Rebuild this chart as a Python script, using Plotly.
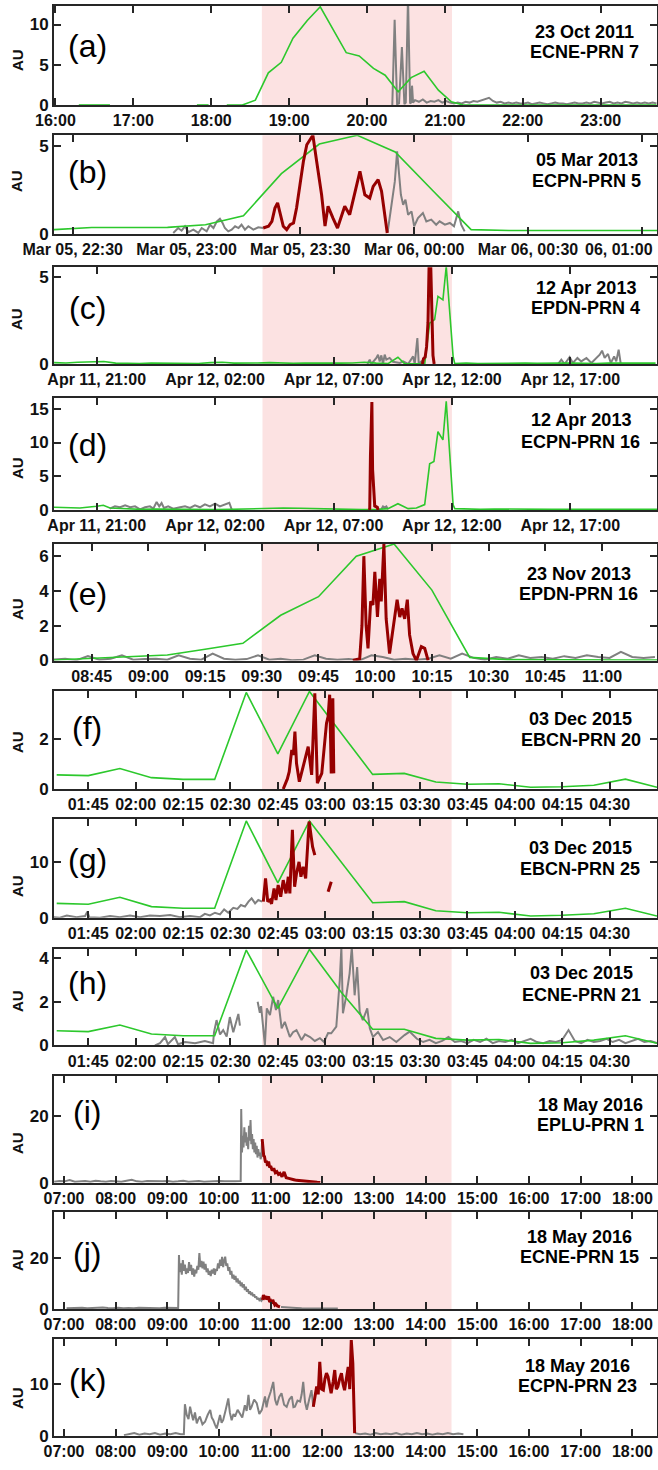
import numpy as np
import pandas as pd
import plotly.graph_objects as go

# ---------------- colours ----------------
GREEN = "rgb(44,200,44)"
GRAY = "rgb(128,128,128)"
RED = "rgb(150,0,0)"
PINK = "rgb(252,226,226)"
AX = "#262626"

# ================= DATA =================
# (a) 23 Oct 2011, ECNE-PRN 7 ; times in minutes from 16:00
a_base = "2011-10-23 16:00"
a_xrange_min = [-1.1, 463.4]
a_shade_min = [159.0, 305.5]
a_green_min = [18, 30, 42, 46, 109, 118, 125, 132, 144, 154, 164, 174, 183, 194, 204, 224, 234, 245, 254, 264,
               274, 284, 295, 305, 314, 324, 334, 344, 354, 364, 374, 384, 394, 404, 414, 424, 434, 444, 454, 463]
a_green_val = [0, 0, 0, None, 0, 0, None, 0, 0, 0.6, 4.0, 5.3, 8.3, 10.5, 12.2, 6.5, 6.1, 4.55, 3.7, 1.65,
               3.4, 4.2, 1.85, 0.4, 0, 0, 0, 0, 0, 0, 0, 0, 0, 0, 0, 0, 0, 0, 0, 0]
a_gray_spike_min = [259.5, 261.3, 263.2, 264.7, 266.9, 268.8, 269.9, 271.6, 273.2, 274.0, 274.7, 275.5]
a_gray_spike_val = [0, 10.6, 0.1, 0.2, 7.2, 0.1, 0.3, 13.5, 0.2, 0.3, 2.4, 0.3]
a_gray_noise_start, a_gray_noise_step = 277, 3
a_gray_noise_val = [0.6, 0.4, 0.7, 0.3, 0.5, 0.4, 0.6, 0.3, 0.5, 0.3, 0.2, 0.3, 0.2, 0.4, 0.3, 0.5, 0.4, 0.6,
                    0.7, 0.9, 0.5, 0.3, 0.4, 0.2, 0.3, 0.2, 0.3, 0.2, 0.2, 0.3, 0.1, 0.2, 0.3, 0.2, 0.1, 0.2,
                    0.3, 0.2, 0.2, 0.1, 0.2, 0.3, 0.2, 0.2, 0.3, 0.2, 0.4, 0.3, 0.2, 0.3, 0.4, 0.2, 0.3, 0.2,
                    0.4, 0.3, 0.2, 0.3, 0.2, 0.3, 0.2, 0.3, 0.2]

# (b) 05 Mar 2013, ECPN-PRN 5 ; minutes from 22:30
b_base = "2013-03-05 22:30"
b_xrange_min = [-4.93, 154.0]
b_shade_min = [50.0, 100.0]
b_green_min = [-5, 5, 15, 25, 35, 45, 55, 65, 75, 85, 95, 105, 115, 125, 135, 145, 155]
b_green_val = [0.25, 0.37, 0.37, 0.38, 0.53, 1.04, 3.44, 5.13, 5.63, 4.68, 2.45, 0.25, 0.2, 0.2, 0.2, 0.2, 0.2]
b_gray1_min = [26.5, 27.8, 28.7, 29.6, 30.5, 31.8, 33.1, 34.0, 35.3, 36.2, 37.1, 38.0, 38.8, 39.5, 40.1, 41.0,
               41.9, 42.8, 43.7, 44.5, 45.4, 46.3, 47.6, 48.9, 50.2]
b_gray1_val = [0.06, 0.34, 0.19, 0.44, 0.11, 0.25, 0.06, 0.34, 0.15, 0.53, 0.34, 0.72, 0.87, 0.63, 0.34, 0.15,
               0.25, 0.44, 0.34, 0.53, 0.25, 0.44, 0.25, 0.38, 0.34]
b_red_min = [50.2, 51.6, 52.5, 53.3, 54.0, 54.6, 55.5, 56.4, 57.3, 58.2, 59.0, 59.9, 60.8, 61.7, 63.3, 64.3,
             65.6, 66.5, 67.3, 68.6, 69.8, 71.7, 73.0, 75.7, 77.0, 78.3, 79.2, 80.5, 81.4, 82.9]
b_red_val = [0.34, 0.44, 0.72, 1.48, 1.77, 1.3, 0.44, 0.25, 0.53, 0.63, 1.48, 2.81, 4.14, 5.09, 5.63, 4.14,
             2.24, 0.45, 1.58, 0.91, 0.34, 1.58, 1.1, 3.57, 2.24, 2.05, 2.72, 3.1, 2.43, 0.06]
b_gray2_min = [83.0, 84.0, 84.9, 85.5, 86.0, 86.5, 87.1, 87.7, 88.4, 89.3, 90.0, 91.0, 92.3, 93.2, 94.5, 95.8,
               96.7, 98.1, 99.4, 100.5, 101.6, 102.4, 103.3]
b_gray2_val = [0.1, 1.67, 3.0, 4.71, 3.19, 2.24, 1.67, 1.96, 1.1, 1.29, 0.44, 0.91, 1.2, 0.72, 0.82, 0.53,
               0.72, 0.53, 0.63, 0.44, 1.29, 0.53, 0.15]

# (c) & (d) 12 Apr 2013 ; hours from 11 Apr 21:00
cd_base = "2013-04-11 21:00"
cd_xrange_h = [-1.803, 23.66]
cd_shade_h = [7.0, 15.0]
c_green_h = [-1.8, -1.3, -0.8, -0.3, 0.0, 0.3,
             0.8, 1.3, 1.8, 2.3, 2.8, 3.3, 3.8, 4.3, 4.8, 5.3, 5.8, 6.3, 6.8, 7.3, 7.8, 8.3, 8.8, 9.3, 9.8,
             10.3, 10.8, 11.3, 11.8, 12.3,
             12.72, 13.0, 13.5, 13.85, 14.06, 14.27, 14.41, 14.62, 14.76, 15.05, 15.12,
             15.6, 16.1, 16.6, 17.1, 17.6, 18.1, 18.6, 19.1, 19.6, 20.1, 20.6, 21.1, 21.6, 22.1, 22.6, 23.1, 23.6]
c_green_val = [0.08, 0.06, 0.1, 0.12, 0.16, 0.14,
               0.05, 0.02, 0.03, 0.05, 0.04, 0.02, 0.05, 0.03, 0.08, 0.1, 0.05, 0.04, 0.06, 0.08, 0.05, 0.04,
               0.06, 0.05, 0.03, 0.05, 0.06, 0.1, 0.05, 0.02,
               0.39, 0.02, 0.01, 0.0, 2.36, 2.56, 3.9, 3.7, 5.63, 0.44, 0.02,
               0.05, 0.03, 0.04, 0.06, 0.03, 0.05, 0.04, 0.03, 0.05, 0.06, 0.04, 0.03, 0.05, 0.04, 0.06, 0.03, 0.05]
c_gray_h = [11.43, 11.53, 11.6, 11.81, 11.88, 11.95, 12.02, 12.09, 12.16, 12.23, 12.37, 12.51, 12.8, 12.94,
            13.15, 13.29, 13.36, 13.43, 13.54, 13.6, 13.71, 13.85, 16.0,
            19.48, 19.62, 19.76, 19.97, 20.11, 20.3, 20.46, 20.68, 20.89, 21.1, 21.24, 21.34, 21.45, 21.59,
            21.71, 21.85, 21.94, 22.04, 22.13]
c_gray_val = [0, 0.25, 0, 0.35, 0.54, 0.15, 0.5, 0, 0.54, 0.25, 0.35, 0.13, 0.06, 0.15,
              0, 0.35, 0.44, 0, 1.5, 0, 0.15, 0, None,
              0, 0.25, 0, 0.4, 0.06, 0.35, 0.15, 0.35, 0.06, 0.35, 0.54, 0.77, 0.35, 0.58,
              0.06, 0.44, 0.15, 0.83, 0]
c_red_h = [13.75, 13.8, 13.87, 13.93, 13.99, 14.04, 14.1, 14.16, 14.2, 14.25]
c_red_val = [0, 0.3, 0.4, 1.0, 2.4, 6.0, 6.0, 1.5, 0.5, 0]

d_green_h = [-1.83, -1.3, -0.71, 0, 0.28, 0.56,
             1.1, 1.83, 2.5, 3.2, 3.9, 4.36, 5.0, 5.7, 6.61, 7.2,
             7.88, 8.6, 9.2, 9.85, 10.5, 11.17, 11.88, 12.3, 12.72, 13.15,
             13.5, 13.85, 14.06, 14.24, 14.41, 14.62, 14.76, 15.05, 15.12,
             15.6, 16.2, 16.8, 17.4, 18.0, 18.6, 19.2, 19.8, 20.4, 21.0, 21.6, 22.2, 22.8, 23.4, 23.66]
d_green_val = [0.4, 0.35, 0.3, 0.55, 0.7, 0.3,
               0.2, 0.1, 0.15, 0.1, 0.12, 0.1, 0.08, 0.1, 0.2, 0.25,
               0.3, 0.25, 0.2, 0.2, 0.1, 0.05, 0.1, 0.2, 0.93, 0.2,
               0.3, 0.8, 6.85, 7.2, 11.6, 10.4, 16.1, 0.78, 0.2,
               0.15, 0.1, 0.15, 0.12, 0.1, 0.15, 0.1, 0.12, 0.15, 0.1, 0.12, 0.1, 0.15, 0.1, 0.12]
d_gray_h = [0.55, 0.77, 0.99, 1.2, 1.41, 1.62, 1.83, 2.04, 2.25, 2.39,
            2.53, 2.64, 2.74, 2.84, 3.02, 3.23, 3.52, 3.73, 3.94, 4.15,
            4.36, 4.57, 4.78, 5.0, 5.2, 5.42, 5.6, 5.7, 9.0,
            12.02, 12.09, 12.16, 12.23, 12.3]
d_gray_val = [0.2, 0.54, 0.4, 0.69, 0.4, 0.54, 0.1, 0.4, 0.54, 0.2,
              1.18, 0.54, 1.03, 0.3, 0.54, 0.2, 0.4, 0.54, 0.3, 0.69,
              0.4, 0.84, 0.54, 0.94, 0.54, 0.84, 1.08, 0.1, None,
              0.1, 0.54, 0.4, 0.54, 0.1]
d_red_h = [11.5, 11.53, 11.56, 11.59, 11.62, 11.65, 11.67, 11.74, 11.85, 11.88]
d_red_val = [0, 0.2, 8.0, 16.0, 16.0, 6.0, 4.2, 0.6, 0.4, 0]

# (e) 23 Nov 2013, EPDN-PRN 16 ; minutes from 08:45
e_base = "2013-11-23 08:45"
e_xrange_min = [-9.97, 149.55]
e_shade_min = [45.0, 95.0]
e_green_min = [-10, 0, 10, 20, 30, 40, 50, 60, 70, 80, 90, 100, 110, 120, 130, 140, 150]
e_green_val = [0.03, 0.12, 0.2, 0.32, 0.65, 0.99, 2.6, 3.67, 6.0, 6.7, 4.05, 0.18, 0.05, 0.03, 0.03, 0.03, 0.03]
e_gray_start, e_gray_step = -10, 3
e_gray_val = [0.05, 0.1, 0.02, 0.25, 0.05, 0.1, 0.3, 0.05, 0.08, 0.1,
              0.04, 0.3, 0.1, 0.05, 0.4, 0.1, 0.05, 0.08, 0.3, 0.05,
              0.1, 0.02, 0.05, 0.3, 0.1, 0.05, 0.08, 0.02, 0.3, 0.2,
              0.05, 0.1, 0.05, 0.1, 0.3, 0.1, 0.4, 0.15, 0.05, 0.2,
              0.1, 0.3, 0.15, 0.2, 0.1, 0.25, 0.15, 0.3, 0.2, 0.15,
              0.5, 0.2, 0.15, 0.2]
e_red_min = [69.1, 70.9, 71.5, 72.0, 72.6, 73.1, 73.8, 74.4, 74.9, 75.6,
             76.2, 76.6, 77.3, 77.9, 78.8, 79.7, 80.8, 81.5, 82.1, 82.8,
             83.5, 84.1, 85.0, 85.9, 87.2, 88.1, 89.0]
e_red_val = [0, 0.1, 2.0, 6.0, 2.0, 0.7, 3.4, 3.2, 5.1, 2.5,
             4.7, 3.4, 6.7, 2.4, 0.4, 1.75, 3.5, 2.5, 3.0, 2.4,
             3.5, 1.47, 0.4, 0.0, 0.8, 0.7, 0.0]

# (f), (g), (h) 03 Dec 2015 ; minutes from 01:45
fgh_base = "2015-12-03 01:45"
fgh_xrange_min = [-10.85, 180.0]
fgh_shade_min = [55.0, 115.0]
fgh_green_min = [-10, 0, 10, 20, 30, 40, 50, 60, 70, 80, 90, 100, 110, 120, 130, 140, 150, 160, 170, 180]
f_green_val = [0.56, 0.53, 0.81, 0.45, 0.38, 0.38, 3.83, 1.39, 3.87, 2.2,
               0.58, 0.62, 0.28, 0.19, 0.21, 0.07, 0.09, 0.15, 0.39, 0.07]
g_green_val = [2.6, 2.42, 3.69, 2.0, 1.7, 1.7, 17.5, 6.3, 17.5, 10.2,
               2.7, 2.9, 1.27, 0.9, 0.98, 0.3, 0.43, 0.72, 1.7, 0.3]
h_green_val = [0.67, 0.63, 0.93, 0.52, 0.44, 0.44, 4.38, 1.7, 4.41, 2.45,
               0.74, 0.74, 0.32, 0.24, 0.27, 0.09, 0.12, 0.24, 0.44, 0.09]
f_red_min = [61.7, 63.0, 63.6, 64.4, 64.9, 65.4, 65.9, 66.8, 69.6, 70.7,
             71.7, 72.5, 73.9, 75.4, 75.9, 76.4, 76.9, 77.4, 77.7]
f_red_val = [0, 0.4, 0.69, 1.55, 1.35, 2.28, 1.02, 0.29, 1.68, 0.56,
             3.8, 0.23, 0.62, 2.61, 2.87, 3.74, 0.62, 3.6, 0.62]
g_gray_min = [-11.1, -9.0, -6.8, -3.7, -1.0, -0.3, 0.3, 3.7, 6.9, 10.0,
              13.2, 16.4, 19.5, 22.7, 25.9, 29.0, 32.2, 35.4, 36.9, 38.5,
              40.1, 41.7, 43.0, 44.3, 45.9, 47.2, 48.3, 49.6, 50.7, 51.7,
              52.8, 53.8, 55.0]
g_gray_val = [0.1, 0, 0.4, 0.1, 0.3, 1.1, 0.1, 0, 0.3, 0.1,
              0.4, 0.1, 0.4, 0.3, 0.5, 0.1, 0.3, 0.1, 0.7, 0.4,
              0.9, 0.6, 1.5, 0.9, 1.8, 1.6, 2.3, 2.0, 2.9, 3.5,
              2.6, 3.2, 2.9]
g_red_min = [55.4, 56.1, 56.8, 57.5, 58.0, 58.8, 59.4, 60.1, 60.9, 61.7,
             62.6, 63.3, 63.8, 64.6, 65.3, 65.9, 66.7, 67.3, 68.0, 68.8,
             69.9, 71.0, 71.7, 73.8, 75.9, 76.9]
g_red_val = [2.9, 7.1, 2.9, 3.2, 2.5, 5.3, 3.2, 5.9, 3.8, 6.8,
             4.4, 7.4, 4.4, 15.9, 5.6, 8.0, 10.1, 7.4, 9.2, 7.1,
             17.4, 12.8, 11.3, None, 4.7, 6.5]
h_gray_min = [21.1, 22.7, 24.3, 25.2, 27.4, 28.4, 30.6, 33.8, 36.9, 39.5,
              39.8, 40.6, 41.7, 42.7, 43.8, 44.8, 45.9, 46.7, 47.5, 48.0,
              50.0,
              53.6, 54.3, 54.7, 55.3, 55.9, 56.5, 57.5, 58.5, 59.4, 60.1,
              61.2, 62.2, 63.8, 64.8, 65.9, 67.5, 68.6, 70.2, 71.7, 73.3,
              74.6, 75.9, 76.9, 78.5, 79.6, 80.1, 80.6, 81.6, 82.7, 83.4,
              84.3, 85.1, 85.9, 86.9, 88.3, 89.1, 90.1, 91.7, 93.3, 95.4,
              97.5, 100.1, 101.7]
h_gray_val = [0.0, 0.1, 0.38, 0.05, 0.38, 0.05, 0.15, 0.1, 0.2, 0.1,
              0.6, 1.16, 0.5, 0.7, 0.4, 1.3, 0.6, 1.0, 1.44, 0.9,
              None,
              2.0, 1.5, 1.8, 0.8, 0.0, 1.7, 1.39, 2.23, 1.62, 2.08,
              0.78, 1.08, 0.38, 0.6, 0.7, 0.24, 0.5, 0.38, 0.2, 0.33,
              0.15, 0.56, 0.55, 0.86, 3.0, 4.5, 1.47, 2.23, 3.3, 4.5,
              2.3, 3.6, 1.54, 1.16, 1.7, 0.78, 0.38, 0.61, 0.24, 0.38,
              0.15, 0.47, 0.63]
h_gray_noise_start, h_gray_noise_step = 104, 2
h_gray_noise_val = [0.3, 0.15, 0.25, 0.1, 0.2, 0.38, 0.15, 0.2, 0.1, 0.25,
                    0.15, 0.3, 0.1, 0.2, 0.15, 0.25, 0.1, 0.2, 0.3, 0.15,
                    0.1, 0.2, 0.15, 0.25, 0.7, 0.2, 0.1, 0.25, 0.15, 0.2,
                    0.3, 0.15, 0.25, 0.1, 0.2, 0.3, 0.15, 0.2, 0.1]

# (i), (j), (k) 18 May 2016 ; hours from 07:00
ijk_base = "2016-05-18 07:00"
ijk_xrange_h = [-0.1935, 11.477]
ijk_shade_h = [3.8333, 7.5]
i_gray_noise_start, i_gray_noise_step = -0.19, 0.1
i_gray_noise_val = [0.3, 0.5, 0.4, 0.8, 0.3, 0.4, 0.5, 0.3, 0.6, 0.4,
                    0.3, 0.5, 0.4, 0.3, 0.6, 0.9, 0.4, 0.3, 0.5, 0.4,
                    0.3, 0.4, 0.5, 0.3, 0.4, 0.6, 0.3, 0.4, 0.5, 0.3,
                    0.4, 0.3, 0.5, 0.4, 0.3, 0.4, 0.5]
i_gray_h = [3.42, 3.43, 3.445, 3.46, 3.475, 3.49, 3.505, 3.52, 3.535, 3.55,
            3.565, 3.58, 3.595, 3.61, 3.625, 3.64, 3.655, 3.67, 3.685, 3.70,
            3.715, 3.73, 3.745, 3.76, 3.775, 3.79, 3.805, 3.82, 3.835]
i_gray_val = [0.5, 22.0, 9.0, 14.0, 10.5, 16.5, 12.0, 15.0, 11.0, 13.5,
              10.0, 17.0, 12.5, 18.7, 11.5, 14.5, 10.0, 13.0, 9.0, 12.0,
              8.5, 11.0, 7.5, 10.0, 8.0, 9.0, 7.0, 8.0, 13.0]
i_red_h = [3.835, 3.85, 3.865, 3.88, 3.9, 3.92, 3.94, 3.96, 3.98, 4.0,
           4.03, 4.06, 4.09, 4.12, 4.15, 4.18, 4.22, 4.26, 4.3, 4.35,
           4.4, 4.45, 4.5, 4.6, 4.7, 4.8, 4.9, 4.96]
i_red_val = [13.0, 9.0, 8.0, 7.8, 6.0, 6.5, 5.0, 6.3, 4.5, 5.0,
             3.6, 4.3, 3.0, 3.3, 2.5, 2.8, 1.8, 3.2, 1.5, 1.3,
             1.0, 0.9, 0.7, 0.5, 0.3, 0.2, 0.1, 0.05]

j_gray_noise_start, j_gray_noise_step = 0.05, 0.1
j_gray_noise_val = [0.3, 0.4, 0.3, 0.5, 0.3, 0.4, 0.3, 0.6, 0.4, 0.3, 0.5,
                    0.3, 0.4, 0.3, 0.5, 0.4, 0.3, 0.4, 0.3, 0.5, 0.4, 0.3]
j_gray_jump_h = [2.21, 2.225]
j_gray_jump_val = [0.4, 21.3]
j_gray_block_start, j_gray_block_step = 2.24, 0.02
j_gray_block_val = [14.5, 18.0, 13.5, 19.3, 15.0, 17.5, 13.8, 16.0, 14.2, 18.5,
                    15.0, 17.4, 13.5, 16.0, 12.8, 15.5, 14.0, 17.0, 15.5, 22.0,
                    16.5, 19.0, 16.0, 18.7, 15.5, 17.8, 14.5, 16.0, 13.5, 15.0,
                    13.0, 15.5, 14.0, 16.0, 13.5, 15.8, 15.0, 18.0, 16.0, 19.5,
                    17.0, 20.5, 16.5, 19.0, 20.6, 17.0, 18.0, 15.0, 16.5, 13.5,
                    15.0, 12.0, 13.5, 11.5, 13.0, 10.5, 12.0, 10.0, 11.2, 9.0,
                    10.5, 8.5, 9.8, 7.5, 8.8, 6.8, 7.8, 6.0, 7.0, 5.5,
                    6.5, 5.0, 5.8, 4.5, 5.0, 3.8, 4.4, 3.5, 4.0, 3.2,
                    3.6]
j_red_h = [3.84, 3.86, 3.88, 3.90, 3.92, 3.94, 3.96, 3.98, 4.00, 4.02, 4.04, 4.06, 4.08, 4.10, 4.13, 4.16, 4.18]
j_red_val = [3.6, 5.5, 4.5, 5.0, 3.8, 4.2, 4.9, 2.8, 3.2, 2.2, 3.6, 2.5, 1.6, 2.0, 1.2, 1.0, 0.9]
j_gray_post_start, j_gray_post_step = 4.2, 0.1
j_gray_post_val = [0.8, 0.6, 0.5, 0.4, 0.3, 0.3, 0.2, 0.3, 0.2, 0.2, 0.2, 0.2]

k_gray_noise_start, k_gray_noise_step = 1.16, 0.1
k_gray_noise_val = [0.1, 0.3, 0.5, 0.2, 0.4, 0.3, 0.5, 0.2, 0.4, 0.3, 0.5, 0.3]
k_gray_h = [2.32, 2.34, 2.375, 2.41, 2.44, 2.47, 2.5, 2.535, 2.57, 2.6,
            2.63, 2.68, 2.73, 2.78, 2.83, 2.86, 2.89, 2.92, 2.955, 2.99,
            3.02, 3.05, 3.08, 3.13, 3.18, 3.21, 3.245, 3.28, 3.31, 3.36,
            3.41, 3.45, 3.5, 3.535, 3.57, 3.6, 3.63, 3.68, 3.73, 3.78,
            3.83, 3.86, 3.89, 3.92, 3.95, 4.0, 4.05, 4.085, 4.12, 4.165,
            4.21, 4.26, 4.31, 4.36, 4.41, 4.44, 4.47, 4.52, 4.57, 4.6,
            4.63, 4.665, 4.7, 4.745, 4.79, 4.825]
k_gray_val = [0.3, 6.1, 4.0, 3.2, 5.6, 4.2, 3.0, 4.5, 2.4, 3.2,
              3.7, 2.2, 2.7, 4.0, 5.0, 3.5, 3.0, 2.2, 1.4, 2.8,
              4.0, 2.5, 3.0, 5.0, 7.2, 4.5, 3.0, 4.2, 3.7, 5.0,
              4.3, 3.5, 5.9, 4.8, 7.9, 5.0, 5.6, 7.0, 6.3, 4.2,
              5.0, 6.5, 7.6, 5.5, 7.0, 8.5, 10.4, 7.0, 5.9, 7.5,
              8.2, 6.0, 5.6, 7.0, 7.6, 5.5, 5.6, 6.8, 6.6, 8.0,
              10.4, 6.5, 5.0, 7.0, 8.8, 5.6]
k_red_h = [4.825, 4.89, 4.92, 4.95, 4.985, 5.02, 5.05, 5.08, 5.11, 5.17, 5.21, 5.24,
           5.27, 5.3, 5.335, 5.37, 5.4, 5.43, 5.465, 5.5, 5.53, 5.56, 5.59, 5.625]
k_red_val = [5.6, 9.5, 8.0, 14.3, 9.0, 8.8, 11.0, 12.1, 11.4, 8.2, 10.5, 12.7,
             9.0, 9.5, 11.0, 12.1, 10.0, 8.8, 11.0, 13.3, 9.0, 18.5, 14.0, 0.5]
k_gray_post_start, k_gray_post_step = 5.63, 0.1
k_gray_post_val = [0.5, 0.3, 0.4, 0.2, 0.5, 0.3, 0.4, 0.3, 0.5, 0.2, 0.4,
                   0.3, 0.5, 0.3, 0.4, 0.2, 0.4, 0.3, 0.5, 0.3, 0.4, 0.3]

# axis ranges (AU) and ticks
y_max = {"a": 12.3, "b": 5.63, "c": 5.58, "d": 16.6, "e": 6.7, "f": 3.9, "g": 17.8,
         "h": 4.43, "i": 31.9, "j": 38.1, "k": 18.7}
y_ticks = {"a": [0, 5, 10], "b": [0, 5], "c": [0, 5], "d": [0, 5, 10, 15], "e": [0, 2, 4, 6],
           "f": [0, 2], "g": [0, 10], "h": [0, 2, 4], "i": [0, 20], "j": [0, 20], "k": [0, 10]}
titles = {"a": ("23 Oct 2011", "ECNE-PRN 7"), "b": ("05 Mar 2013", "ECPN-PRN 5"),
          "c": ("12 Apr 2013", "EPDN-PRN 4"), "d": ("12 Apr 2013", "ECPN-PRN 16"),
          "e": ("23 Nov 2013", "EPDN-PRN 16"), "f": ("03 Dec 2015", "EBCN-PRN 20"),
          "g": ("03 Dec 2015", "EBCN-PRN 25"), "h": ("03 Dec 2015", "ECNE-PRN 21"),
          "i": ("18 May 2016", "EPLU-PRN 1"), "j": ("18 May 2016", "ECNE-PRN 15"),
          "k": ("18 May 2016", "ECPN-PRN 23")}

a_tick_labels = ["16:00", "17:00", "18:00", "19:00", "20:00", "21:00", "22:00", "23:00"]
b_tick_labels = ["Mar 05, 22:30", "Mar 05, 23:00", "Mar 05, 23:30", "Mar 06, 00:00", "Mar 06, 00:30", ""]
b_edge_label = "06, 01:00"   # last (01:00) label, shown clipped at the right edge as in the original
cd_tick_labels = ["Apr 11, 21:00", "Apr 12, 02:00", "Apr 12, 07:00", "Apr 12, 12:00", "Apr 12, 17:00"]
e_tick_labels = ["08:45", "09:00", "09:15", "09:30", "09:45", "10:00", "10:15", "10:30", "10:45", "11:00"]
fgh_tick_labels = ["01:45", "02:00", "02:15", "02:30", "02:45", "03:00", "03:15", "03:30", "03:45",
                   "04:00", "04:15", "04:30", ""]
ijk_tick_labels = ["07:00", "08:00", "09:00", "10:00", "11:00", "12:00", "13:00", "14:00", "15:00",
                   "16:00", "17:00", "18:00"]

# ================= helpers =================
def T(base, offs, unit):
    b = pd.Timestamp(base)
    return [b + pd.Timedelta(float(o), unit=unit) for o in offs]


def uniform(start, step, vals):
    return list(start + step * np.arange(len(vals)))


def check(t, v):
    assert len(t) == len(v), (len(t), len(v))
    return t, v


MIN, HR = "m", "h"

panels = {}
panels["a"] = dict(base=a_base, unit=MIN, xr=a_xrange_min, shade=a_shade_min,
                   ticks=[0, 60, 120, 180, 240, 300, 360, 420], ticktext=a_tick_labels,
                   green=[check(a_green_min, a_green_val)],
                   gray=[check(a_gray_spike_min + uniform(a_gray_noise_start, a_gray_noise_step, a_gray_noise_val),
                               a_gray_spike_val + a_gray_noise_val)],
                   red=[])
panels["b"] = dict(base=b_base, unit=MIN, xr=b_xrange_min, shade=b_shade_min,
                   ticks=[0, 30, 60, 90, 120, 150], ticktext=b_tick_labels,
                   green=[check(b_green_min, b_green_val)],
                   gray=[check(b_gray1_min, b_gray1_val), check(b_gray2_min, b_gray2_val)],
                   red=[check(b_red_min, b_red_val)])
panels["c"] = dict(base=cd_base, unit=HR, xr=cd_xrange_h, shade=cd_shade_h,
                   ticks=[0, 5, 10, 15, 20], ticktext=cd_tick_labels,
                   green=[check(c_green_h, c_green_val)],
                   gray=[check(c_gray_h, c_gray_val)],
                   red=[check(c_red_h, c_red_val)])
panels["d"] = dict(base=cd_base, unit=HR, xr=cd_xrange_h, shade=cd_shade_h,
                   ticks=[0, 5, 10, 15, 20], ticktext=cd_tick_labels,
                   green=[check(d_green_h, d_green_val)],
                   gray=[check(d_gray_h, d_gray_val)],
                   red=[check(d_red_h, d_red_val)])
panels["e"] = dict(base=e_base, unit=MIN, xr=e_xrange_min, shade=e_shade_min,
                   ticks=[0, 15, 30, 45, 60, 75, 90, 105, 120, 135], ticktext=e_tick_labels,
                   green=[check(e_green_min, e_green_val)],
                   gray=[check(uniform(e_gray_start, e_gray_step, e_gray_val), e_gray_val)],
                   red=[check(e_red_min, e_red_val)])
fgh_ticks = [0, 15, 30, 45, 60, 75, 90, 105, 120, 135, 150, 165, 180]
panels["f"] = dict(base=fgh_base, unit=MIN, xr=fgh_xrange_min, shade=fgh_shade_min,
                   ticks=fgh_ticks, ticktext=fgh_tick_labels,
                   green=[check(fgh_green_min, f_green_val)], gray=[],
                   red=[check(f_red_min, f_red_val)])
panels["g"] = dict(base=fgh_base, unit=MIN, xr=fgh_xrange_min, shade=fgh_shade_min,
                   ticks=fgh_ticks, ticktext=fgh_tick_labels,
                   green=[check(fgh_green_min, g_green_val)],
                   gray=[check(g_gray_min, g_gray_val)],
                   red=[check(g_red_min, g_red_val)])
panels["h"] = dict(base=fgh_base, unit=MIN, xr=fgh_xrange_min, shade=fgh_shade_min,
                   ticks=fgh_ticks, ticktext=fgh_tick_labels,
                   green=[check(fgh_green_min, h_green_val)],
                   gray=[check(h_gray_min + uniform(h_gray_noise_start, h_gray_noise_step, h_gray_noise_val),
                               h_gray_val + h_gray_noise_val)],
                   red=[])
ijk_ticks = list(range(0, 12))
panels["i"] = dict(base=ijk_base, unit=HR, xr=ijk_xrange_h, shade=ijk_shade_h,
                   ticks=ijk_ticks, ticktext=ijk_tick_labels, green=[],
                   gray=[check(uniform(i_gray_noise_start, i_gray_noise_step, i_gray_noise_val) + i_gray_h,
                               i_gray_noise_val + i_gray_val)],
                   red=[check(i_red_h, i_red_val)])
panels["j"] = dict(base=ijk_base, unit=HR, xr=ijk_xrange_h, shade=ijk_shade_h,
                   ticks=ijk_ticks, ticktext=ijk_tick_labels, green=[],
                   gray=[check(uniform(j_gray_noise_start, j_gray_noise_step, j_gray_noise_val) + j_gray_jump_h
                               + uniform(j_gray_block_start, j_gray_block_step, j_gray_block_val),
                               j_gray_noise_val + j_gray_jump_val + j_gray_block_val),
                         check(uniform(j_gray_post_start, j_gray_post_step, j_gray_post_val), j_gray_post_val)],
                   red=[check(j_red_h, j_red_val)])
panels["k"] = dict(base=ijk_base, unit=HR, xr=ijk_xrange_h, shade=ijk_shade_h,
                   ticks=ijk_ticks, ticktext=ijk_tick_labels, green=[],
                   gray=[check(uniform(k_gray_noise_start, k_gray_noise_step, k_gray_noise_val) + k_gray_h,
                               k_gray_noise_val + k_gray_val),
                         check(uniform(k_gray_post_start, k_gray_post_step, k_gray_post_val), k_gray_post_val)],
                   red=[check(k_red_h, k_red_val)])

# ================= layout geometry (pixels) =================
W, H = 658, 1470
ML, MR = 54, 1
PW = W - ML - MR
box_px = {"a": (6, 105), "b": (135.3, 234), "c": (267.3, 364), "d": (398, 510), "e": (544, 660.5),
          "f": (690.7, 789), "g": (819.3, 917.7), "h": (949, 1045.3), "i": (1075.7, 1182.7),
          "j": (1212.3, 1309), "k": (1339, 1435.7)}
letter_y = {"a": 46, "b": 172, "c": 308, "d": 445, "e": 594, "f": 728, "g": 860, "h": 983,
            "i": 1112, "j": 1254, "k": 1380}
au_y = {"a": 60, "b": 181, "c": 319, "d": 468, "e": 609, "f": 742, "g": 886, "h": 1001,
        "i": 1143, "j": 1260, "k": 1398}
title_pos = {"a": (584, 31.7, 52), "b": (586.5, 159.5, 180.5), "c": (585.5, 288, 308),
             "d": (580.5, 419.5, 441.5), "e": (578.6, 573.5, 593.5), "f": (580.5, 718.5, 740),
             "g": (580, 847.5, 868.5), "h": (581.5, 973.5, 994.5), "i": (590.7, 1104.5, 1125),
             "j": (579, 1236.5, 1256.5), "k": (577, 1365.5, 1385.5)}
b_edge_label_pos = (655, 249)


def px_x(px):
    return (px - ML) / PW


def px_y(py):
    return 1 - py / H


FONT = "Liberation Sans, Arial, sans-serif"
fig = go.Figure()
layout = dict(template="none", width=W, height=H, autosize=False, showlegend=False,
              margin=dict(l=ML, r=MR, t=0, b=0, pad=0), paper_bgcolor="white", plot_bgcolor="white",
              shapes=[], annotations=[])

for idx, key in enumerate("abcdefghijk", start=1):
    p = panels[key]
    xa = f"x{idx}" if idx > 1 else "x"
    ya = f"y{idx}" if idx > 1 else "y"
    xname = f"xaxis{idx}" if idx > 1 else "xaxis"
    yname = f"yaxis{idx}" if idx > 1 else "yaxis"
    top, bot = box_px[key]
    xr = T(p["base"], p["xr"], p["unit"])
    tv = T(p["base"], p["ticks"], p["unit"])
    layout[xname] = dict(domain=[0, 1], anchor=ya, type="date", range=xr, tickmode="array",
                         tickvals=tv, ticktext=list(p["ticktext"]), showline=True, mirror="allticks",
                         ticks="inside", ticklen=7, tickwidth=2, tickcolor=AX, linecolor=AX,
                         linewidth=2, showgrid=False, zeroline=False, automargin=False,
                         tickfont=dict(family=FONT, size=16, color="#111", weight="bold"))
    layout[yname] = dict(domain=[px_y(bot), px_y(top)], anchor=xa, range=[0, y_max[key]],
                         tickmode="array", tickvals=y_ticks[key], showline=True, mirror="allticks",
                         ticks="inside", ticklen=7, tickwidth=2, tickcolor=AX, linecolor=AX,
                         linewidth=2, showgrid=False, zeroline=False, automargin=False,
                         tickfont=dict(family=FONT, size=17, color="#111", weight="bold"))
    s0, s1 = T(p["base"], p["shade"], p["unit"])
    layout["shapes"].append(dict(type="rect", xref=xa, yref=f"{ya} domain", x0=s0, x1=s1, y0=0, y1=1,
                                 fillcolor=PINK, line=dict(width=0), layer="below"))
    for t, v in p["gray"]:
        fig.add_trace(go.Scatter(x=T(p["base"], t, p["unit"]), y=v, mode="lines", xaxis=xa, yaxis=ya,
                                 line=dict(color=GRAY, width=2), hoverinfo="skip"))
    for t, v in p["green"]:
        fig.add_trace(go.Scatter(x=T(p["base"], t, p["unit"]), y=v, mode="lines", xaxis=xa, yaxis=ya,
                                 line=dict(color=GREEN, width=1.6), hoverinfo="skip"))
    for t, v in p["red"]:
        fig.add_trace(go.Scatter(x=T(p["base"], t, p["unit"]), y=v, mode="lines", xaxis=xa, yaxis=ya,
                                 line=dict(color=RED, width=3), hoverinfo="skip"))
    layout["annotations"].append(dict(text=f"({key})", xref="paper", yref="paper", x=px_x(87),
                                      y=px_y(letter_y[key]), xanchor="center", yanchor="middle",
                                      showarrow=False, font=dict(family=FONT, size=32, color="black")))
    layout["annotations"].append(dict(text="AU", xref="paper", yref="paper", x=px_x(17),
                                      y=px_y(au_y[key]), xanchor="center", yanchor="middle",
                                      textangle=-90, showarrow=False,
                                      font=dict(family=FONT, size=15, color="#111", weight="bold")))
    tx, ty1, ty2 = title_pos[key]
    l1, l2 = titles[key]
    for txt, ty in ((l1, ty1), (l2, ty2)):
        layout["annotations"].append(dict(text=txt, xref="paper", yref="paper", x=px_x(tx), y=px_y(ty),
                                          xanchor="center", yanchor="middle", showarrow=False,
                                          font=dict(family=FONT, size=18, color="black", weight="bold")))

# right-edge label of panel (b)'s time axis
layout["annotations"].append(dict(text=b_edge_label, xref="paper", yref="paper",
                                  x=px_x(b_edge_label_pos[0]), y=px_y(b_edge_label_pos[1]),
                                  xanchor="right", yanchor="middle", showarrow=False,
                                  font=dict(family=FONT, size=16, color="#111", weight="bold")))

fig.update_layout(**layout)
fig.write_html("out.html", config={"displayModeBar": False},
               post_script="document.body.style.margin='0px';document.body.style.overflow='hidden';")
